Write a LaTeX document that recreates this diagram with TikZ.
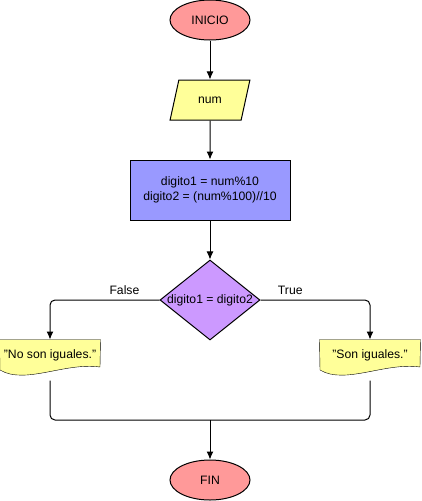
\documentclass[tikz,border=0pt]{standalone}
\usepackage{fontspec}
\setmainfont{Liberation Sans}
\usetikzlibrary{shapes.geometric,arrows.meta,backgrounds}
\definecolor{termred}{HTML}{FF9999}
\definecolor{ioyellow}{HTML}{FFFF99}
\definecolor{procblue}{HTML}{9999FF}
\definecolor{condviolet}{HTML}{CC99FF}
\begin{document}
\begin{tikzpicture}[x=1pt, y=-1pt, >={Latex[length=8pt,width=7pt]},
    font=\fontsize{12.2}{15}\selectfont, line width=1pt,
    term/.style={ellipse, draw, fill=termred, minimum width=80pt, minimum height=40pt, inner sep=0pt},
    io/.style={trapezium, draw, fill=ioyellow, trapezium left angle=63.43, trapezium right angle=116.57,
        trapezium stretches=true, minimum width=80pt, minimum height=40pt, inner sep=0pt},
    proc/.style={rectangle, draw, fill=procblue, minimum width=160pt, minimum height=60pt, align=center},
    cond/.style={diamond, draw, fill=condviolet, minimum width=100pt, minimum height=80pt, inner sep=0pt},
    docbox/.style={rectangle, minimum width=100pt, minimum height=40pt, inner sep=0pt, text height=9pt, text depth=13pt}]
\useasboundingbox (0,0) rectangle (421,501);

\node[term] (inicio) at (210,20) {INICIO};
\node[io] (num) at (210,100) {num};
\node[proc] (calc) at (210,190) {digito1 = num\%10\\digito2 = (num\%100)//10};
\node[cond, label={center:digito1 = digito2}] (cmp) at (210,300) {};
\node[docbox] (no) at (50,360) {"No son iguales."};
\node[docbox] (si) at (370,360) {"Son iguales."};
\node[term] (fin) at (210,480) {FIN};
\coordinate (join) at (210,420);

% document outlines
\begin{scope}[on background layer]
\foreach \n in {no,si}
{
    \filldraw[fill=ioyellow] (\n.north west) -- (\n.north east) -- ([shift={(50,7)}]\n.center)
        .. controls ([shift={(15,2)}]\n.center) and ([shift={(-25,25)}]\n.center) .. ([shift={(-50,10)}]\n.center) -- cycle;
}
\end{scope}

\draw[->] (inicio) -- (num);
\draw[->] (num) -- (calc);
\draw[->] (calc) -- (cmp);
\draw[->, rounded corners=5pt] (cmp.west) -| node[pos=0.16, above, yshift=2pt]{False} (no.north);
\draw[->, rounded corners=5pt] (cmp.east) -| node[pos=0.136, above, yshift=2pt]{True} (si.north);
\draw[rounded corners=5pt] (no.south) |- (join) -| (si.south);
\draw[->] (join) -- (fin);

\end{tikzpicture}
\end{document}
